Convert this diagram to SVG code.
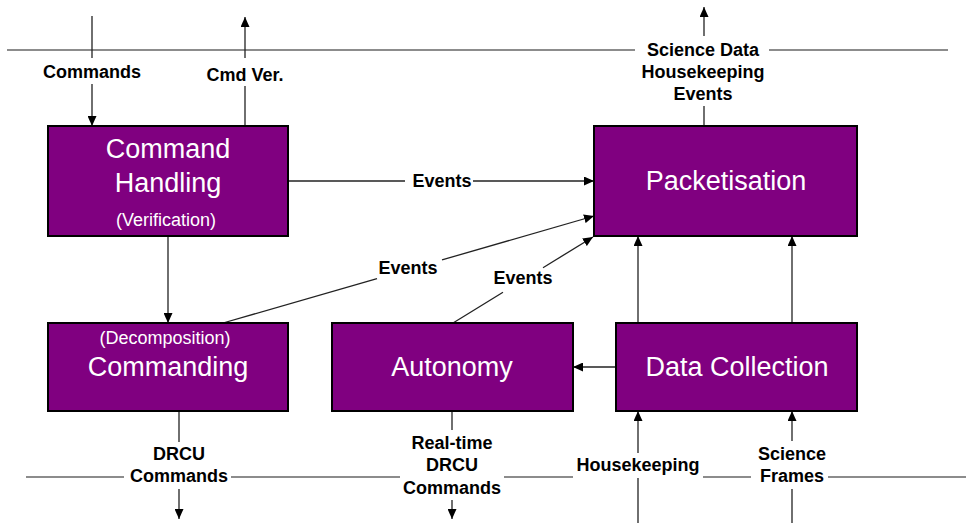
<svg xmlns="http://www.w3.org/2000/svg" width="966" height="523" viewBox="0 0 966 523">
<defs>
<marker id="arr" markerUnits="userSpaceOnUse" markerWidth="10" markerHeight="9" refX="10" refY="4.5" orient="auto">
<path d="M0,0 L10,4.5 L0,9 z" fill="#000"/>
</marker>
<style>
.box{fill:#800080;stroke:#000;stroke-width:2}
.big{font-family:"Liberation Sans",Arial,sans-serif;font-size:27px;fill:#fff;text-anchor:middle}
.small{font-family:"Liberation Sans",Arial,sans-serif;font-size:18px;fill:#fff;text-anchor:middle}
.lbl{font-family:"Liberation Sans",Arial,sans-serif;font-size:18px;font-weight:bold;fill:#000;text-anchor:middle}
.bnd{stroke:#666;stroke-width:1.5;fill:none}
.con{stroke:#222;stroke-width:1.3;fill:none}
.ah{marker-end:url(#arr)}
</style>
</defs>
<rect width="966" height="523" fill="#fff"/>
<g id="boundaries">
<line class="bnd" x1="7" y1="50" x2="635" y2="50"/>
<line class="bnd" x1="769" y1="50" x2="948" y2="50"/>
<line class="bnd" x1="26" y1="477" x2="124" y2="477"/>
<line class="bnd" x1="231" y1="477" x2="400" y2="477"/>
<line class="bnd" x1="504" y1="477" x2="573" y2="477"/>
<line class="bnd" x1="703" y1="477" x2="751" y2="477"/>
<line class="bnd" x1="828" y1="477" x2="966" y2="477"/>
</g>
<g id="connectors">
<line class="con" x1="92" y1="16" x2="92" y2="58"/>
<line class="con ah" x1="92" y1="84" x2="92" y2="126"/>
<line class="con" x1="245" y1="126" x2="245" y2="86"/>
<line class="con ah" x1="245" y1="58" x2="245" y2="17"/>
<line class="con" x1="704" y1="126" x2="704" y2="106"/>
<line class="con ah" x1="704" y1="36" x2="704" y2="7"/>
<line class="con" x1="288" y1="181" x2="405" y2="181"/>
<line class="con ah" x1="473" y1="181" x2="594" y2="181"/>
<line class="con" x1="223" y1="323" x2="377" y2="278.6"/>
<line class="con ah" x1="442" y1="259.9" x2="594" y2="216"/>
<line class="con" x1="453" y1="323" x2="503" y2="292.3"/>
<line class="con ah" x1="543" y1="267.7" x2="593" y2="237"/>
<line class="con ah" x1="168" y1="236" x2="168" y2="323"/>
<line class="con ah" x1="616" y1="367" x2="573" y2="367"/>
<line class="con ah" x1="638" y1="323" x2="638" y2="236"/>
<line class="con ah" x1="792" y1="323" x2="792" y2="236"/>
<line class="con" x1="179" y1="411" x2="179" y2="442"/>
<line class="con ah" x1="179" y1="489" x2="179" y2="519"/>
<line class="con" x1="452" y1="411" x2="452" y2="430"/>
<line class="con ah" x1="452" y1="500" x2="452" y2="519"/>
<line class="con" x1="638" y1="523" x2="638" y2="478"/>
<line class="con ah" x1="638" y1="453" x2="638" y2="411"/>
<line class="con" x1="792" y1="523" x2="792" y2="489"/>
<line class="con ah" x1="792" y1="441" x2="792" y2="411"/>
</g>
<g id="labels">
<text class="lbl" x="92" y="77.5">Commands</text>
<text class="lbl" x="245" y="81">Cmd Ver.</text>
<text class="lbl" x="703" y="56">Science Data</text>
<text class="lbl" x="703" y="78">Housekeeping</text>
<text class="lbl" x="703" y="100">Events</text>
<text class="lbl" x="442" y="187">Events</text>
<text class="lbl" x="408" y="274">Events</text>
<text class="lbl" x="523" y="284">Events</text>
<text class="lbl" x="179" y="460">DRCU</text>
<text class="lbl" x="179" y="482">Commands</text>
<text class="lbl" x="452" y="449">Real-time</text>
<text class="lbl" x="452" y="471">DRCU</text>
<text class="lbl" x="452" y="494">Commands</text>
<text class="lbl" x="638" y="471">Housekeeping</text>
<text class="lbl" x="792" y="460">Science</text>
<text class="lbl" x="792" y="482">Frames</text>
</g>
<g id="command-handling">
<rect class="box" x="48" y="126" width="240" height="110"/>
<text class="big" x="168" y="158">Command</text>
<text class="big" x="168" y="192">Handling</text>
<text class="small" x="166" y="226">(Verification)</text>
</g>
<g id="packetisation">
<rect class="box" x="594" y="126" width="263" height="110"/>
<text class="big" x="726" y="189.5">Packetisation</text>
</g>
<g id="commanding">
<rect class="box" x="48" y="323" width="240" height="88"/>
<text class="small" x="165" y="344">(Decomposition)</text>
<text class="big" x="168" y="375.5">Commanding</text>
</g>
<g id="autonomy">
<rect class="box" x="332" y="323" width="241" height="88"/>
<text class="big" x="452" y="375.5">Autonomy</text>
</g>
<g id="data-collection">
<rect class="box" x="616" y="323" width="241" height="88"/>
<text class="big" x="737" y="375.5">Data Collection</text>
</g>
</svg>
